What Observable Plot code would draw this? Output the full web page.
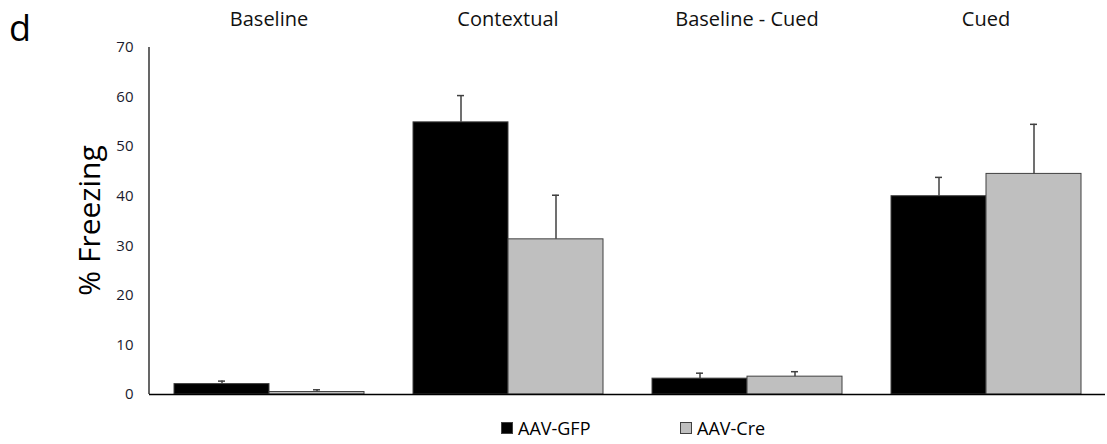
<!DOCTYPE html>
<html><head><meta charset="utf-8">
<script src="https://cdn.jsdelivr.net/npm/d3@7"></script>
<script src="https://cdn.jsdelivr.net/npm/@observablehq/plot@0.6"></script>
<style>
body{margin:0;background:#fff;font-family:"Open Sans",sans-serif;}
#legend{position:relative;height:32px;width:1107px;}
.item{position:absolute;top:0;display:flex;align-items:center;font-size:18px;line-height:32px;color:#000;}
.sw{width:10px;height:10px;border:1px solid #404040;margin-right:5px;}
</style></head><body>
<div id="chart"></div>
<div id="legend"></div>
<script>
const categories = ["Baseline", "Contextual", "Baseline - Cued", "Cued"];
const groups = ["AAV-GFP", "AAV-Cre"];
const gfpMean = [2.1, 54.9, 3.2, 40.0];
const gfpErr  = [0.6, 5.4, 1.1, 3.8];
const creMean = [0.5, 31.3, 3.6, 44.5];
const creErr  = [0.45, 8.9, 1.0, 10.0];
const yTicks = [0, 10, 20, 30, 40, 50, 60, 70];
const colors = ["#000000", "#bfbfbf"];
const yLabel = "% Freezing";
const panelLabel = "d";

const rows = [];
categories.forEach((c, i) => {
  rows.push({cat: c, group: groups[0], mean: gfpMean[i], err: gfpErr[i]});
  rows.push({cat: c, group: groups[1], mean: creMean[i], err: creErr[i]});
});

const plot = Plot.plot({
  width: 1107, height: 412,
  marginLeft: 149, marginRight: 2, marginTop: 47, marginBottom: 18,
  style: {fontFamily: "Open Sans", fontSize: "15px", color: "#000", background: "#fff"},
  fx: {domain: categories, padding: 0, label: null},
  x: {domain: groups, paddingInner: 0, paddingOuter: 0.245, axis: null},
  y: {domain: [0, 70], label: null},
  color: {domain: groups, range: colors},
  marks: [
    Plot.barY(rows, {fx: "cat", x: "group", y: "mean", fill: "group", stroke: "#404040", strokeWidth: 1}),
    Plot.ruleX(rows, {fx: "cat", x: "group", y1: "mean", y2: d => d.mean + d.err, stroke: "#404040", strokeWidth: 1.5}),
    Plot.tickY(rows, {fx: "cat", x: "group", y: d => d.mean + d.err, stroke: "#404040", strokeWidth: 1.5, insetLeft: 44, insetRight: 44}),
    Plot.ruleY([0], {stroke: "#000", strokeWidth: 1.5}),
    Plot.axisY({ticks: yTicks, tickSize: 0, tickPadding: 16, fontSize: 15, label: null, fill: "#1a1a2e"}),
    Plot.axisFx({anchor: "top", tickSize: 0, tickPadding: 22, fontSize: 20, label: null, fill: "#111"})
  ]
});
document.getElementById("chart").appendChild(plot);

const svg = d3.select(plot);
svg.selectAll('g[aria-label="y-axis tick label"]').attr("font-size", 15)
  .selectAll("text").attr("font-size", 15);
const sy = plot.scale("y");
const fxr = plot.scale("fx").range;
const yTop = sy.apply(70), yBot = sy.apply(0);
svg.append("line")
  .attr("x1", fxr[0]).attr("x2", fxr[0])
  .attr("y1", yTop).attr("y2", yBot)
  .attr("stroke", "#000").attr("stroke-width", 1.2);
svg.append("text")
  .attr("transform", `translate(88,${(yTop + yBot) / 2}) rotate(-90)`)
  .attr("text-anchor", "middle").attr("dominant-baseline", "central")
  .attr("font-size", 30).attr("font-family", "Open Sans").attr("fill", "#000")
  .text(yLabel);
svg.append("text")
  .attr("x", 9).attr("y", 41).attr("text-anchor", "start")
  .attr("font-size", 36).attr("font-family", "Open Sans").attr("fill", "#000")
  .text(panelLabel);

const legend = d3.select("#legend");
const lefts = [501, 680];
groups.forEach((g, i) => {
  const it = legend.append("div").attr("class", "item").style("left", lefts[i] + "px");
  it.append("div").attr("class", "sw").style("background", colors[i]);
  it.append("span").text(g);
});
</script>
</body></html>
